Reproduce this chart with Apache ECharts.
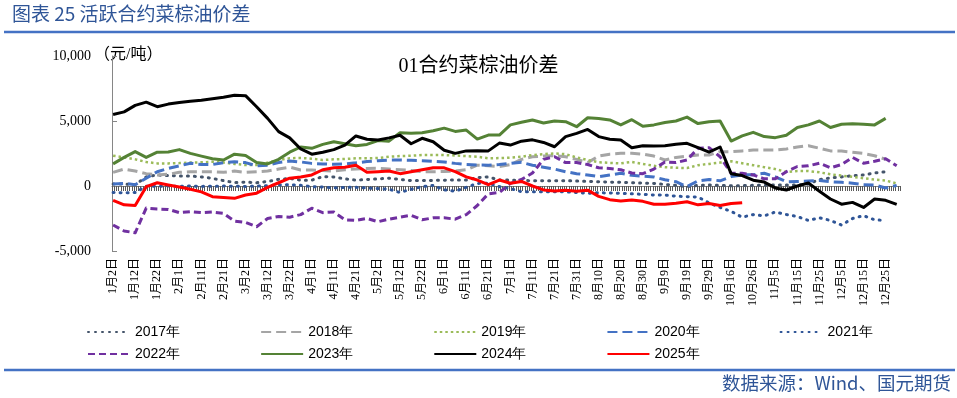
<!DOCTYPE html>
<html>
<head>
<meta charset="utf-8">
<script src="https://cdn.jsdelivr.net/npm/echarts@6/dist/echarts.min.js"></script>
<style>
  html, body { margin: 0; padding: 0; background: #fff; }
  #chart { width: 957px; height: 398px; }
</style>
</head>
<body>
<div id="chart"></div>
<script>
// calendar of the x axis (leap year, holidays dropped), label every 10th day
const monthDays = [31, 29, 31, 30, 31, 30, 31, 31, 30, 31, 30, 31]
const skipDays = ['1月1日', '5月1日', '10月1日', '10月2日', '10月3日', '10月4日', '10月5日', '10月6日', '10月7日']
const categories = []
monthDays.forEach((n, m) => {
  for (let d = 1; d <= n; d++) {
    const name = (m + 1) + '月' + d + '日'
    if (skipDays.indexOf(name) < 0) categories.push(name)
  }
})

const yTicks = [-5000, 0, 5000, 10000]
const years = ['2017年', '2018年', '2019年', '2020年', '2021年', '2022年', '2023年', '2024年', '2025年']

// values read every 5th category (元/吨)
const STEP = 5
const v2017 = [150,150,100,700,850,800,770,770,700,590, 410,260,300,250,350,510,580,450,450,720,
  700,550,450,500,550,600,500,420,420,430, 450,460,460,650,700,460,450,420,410,400,
  400,410,380,350,330,300,280,250,220,200, 120,50,-50,50,80,50,20,30,50,60,
  70,80,80,150,500,620,700,790,850,1000, 1100,null]
const v2018 = [1050,1300,1150,950,850,900,1050,1100,1100,1100, 1050,1150,1050,1100,1150,1300,1450,1230,1230,1200,
  1150,1250,1310,1350,1360,1300,1250,1200,1100,1100, 1120,1150,1250,1600,1560,1500,1650,2050,2250,2300,
  2330,2250,2050,1800,2300,2450,2510,2510,2450,2300, 2000,2200,2300,2380,2380,2640,2640,2700,2770,2770,
  2770,2850,3000,3100,2900,2700,2690,2600,2500,2330, 2050,null]
const v2019 = [2330,2200,2050,1850,1740,1740,1760,1800,1820,1860, 1800,1700,1610,1610,1800,2000,2130,2160,2100,2000,
  2050,2080,2130,2130,2150,2250,2300,2330,2380,2380, 2380,2350,2300,2250,2130,2150,2180,2250,2380,2450,
  2510,2450,2200,2000,1830,1780,1740,1850,1700,1550, 1450,1400,1380,1600,1700,1800,1900,1750,1600,1450,
  1300,1080,1150,1150,1050,900,800,700,600,500, 420,200]
const v2020 = [150,200,100,600,1100,1350,1550,1750,1650,1650, 1800,1870,1800,1550,1600,1800,1920,1850,1740,1700,
  1670,1700,1780,1880,1950,2000,2000,1980,1950,1900, 1850,1740,1650,1610,1600,1650,1740,1820,1600,1450,
  1300,1100,950,850,720,850,980,820,750,700, 480,330,-50,400,500,400,720,850,870,980,
  700,330,350,380,420,330,280,220,100,80, -150,50]
const v2021 = [-500,-520,-500,-20,-30,0,-20,0,-30,-20, 0,-20,-30,0,30,80,100,50,-50,-80,
  -150,-100,-100,-150,-200,-250,-500,-250,-50,50, -300,-400,-100,200,210,-50,-200,-440,-440,-440,
  -440,-450,-500,-560,-520,-540,-560,-600,-640,-690, -700,-780,-820,-850,-1300,-1650,-1950,-2400,-2200,-2300,
  -2000,-2200,-2350,-2650,-2450,-2650,-3000,-2500,-2280,-2600, -2650,null]
const v2022 = [-3000,-3460,-3600,-1700,-1770,-1800,-2050,-1980,-2050,-2000, -2100,-2700,-2800,-3130,-2500,-2350,-2400,-2200,-1710,-2050,
  -2000,-2600,-2650,-2500,-2750,-2550,-2400,-2250,-2600,-2450, -2450,-2550,-2200,-1500,-600,-500,200,500,1000,2050,
  2250,1800,1800,1650,1400,1350,1250,1000,950,1300, 1850,1800,2000,2900,2950,2250,980,980,850,550,
  550,1100,1500,1550,1750,1400,1650,2200,1750,1900, 2100,1560]
const v2023 = [1700,2200,2650,2200,2600,2620,2800,2510,2300,2100, 2000,2450,2350,1800,1700,2050,2600,3000,2900,3200,
  3400,3250,3100,3200,3500,3450,4100,4050,4100,4250, 4450,4200,4300,3610,3920,3920,4700,4900,5080,4850,
  5000,4950,4560,5250,5200,5080,4700,5100,4600,4700, 4880,5000,5300,4800,4950,5000,3460,3850,4130,3800,
  3720,3900,4500,4700,5000,4500,4750,4780,4750,4700, 5200,null]
const v2024 = [5500,5700,6200,6450,6100,6300,6420,6520,6600,6720, 6830,6980,6950,6100,5200,4180,3700,2850,2450,2600,
  2800,3150,3850,3600,3540,3700,3900,3250,3670,3400, 2750,2510,2700,2720,2700,3300,3150,3450,3550,3350,
  3020,3800,4050,4350,3800,3600,3540,2950,3100,3080, 3100,3220,3280,2950,2600,3000,950,800,450,300,
  -150,-310,0,230,-400,-1000,-1400,-1260,-1650,-1000, -1100,-1410]
const v2025 = [-1100,-1450,-1500,-50,250,80,-80,-250,-450,-820, -880,-950,-690,-550,-100,250,600,700,850,1250,
  1400,1450,1600,1050,1100,1150,950,1100,1250,1400, 1400,1100,700,460,100,460,210,350,0,-300,
  -380,-320,-400,-320,-800,-1050,-1150,-1080,-1180,-1400, -1400,-1330,-1210,-1450,-1350,-1500,-1350,-1280]

const spread = samples => {
  const arr = categories.map(() => null)
  samples.forEach((v, k) => { if (k * STEP < arr.length) arr[k * STEP] = v })
  return arr
}

const styles = [
  { color: '#44546A', width: 3, type: [1, 6], cap: 'round' },
  { color: '#A5A5A5', width: 3, type: [10, 5], cap: 'butt' },
  { color: '#9BBB59', width: 2.5, type: [2.5, 3], cap: 'butt' },
  { color: '#4472C4', width: 3, type: [10, 5], cap: 'butt' },
  { color: '#2F5597', width: 3, type: [1, 6], cap: 'round' },
  { color: '#7030A0', width: 3, type: [7, 4], cap: 'butt' },
  { color: '#548235', width: 3, type: 'solid', cap: 'butt' },
  { color: '#000000', width: 3, type: 'solid', cap: 'butt' },
  { color: '#FF0000', width: 3, type: 'solid', cap: 'butt' }
]
const values = [v2017, v2018, v2019, v2020, v2021, v2022, v2023, v2024, v2025]

const serif = '"Liberation Serif", "Noto Sans CJK SC", serif'
const legendText = { fontFamily: '"Liberation Sans Narrow", "Liberation Sans", sans-serif', fontSize: 14, color: '#000' }
const legendBase = { left: 82, itemWidth: 42, itemHeight: 14, itemGap: 80, textStyle: legendText, itemStyle: { opacity: 0 } }

const chart = echarts.init(document.getElementById('chart'))
chart.setOption({
  animation: false,
  title: {
    text: '01合约菜棕油价差',
    left: 'center',
    top: 52,
    textStyle: { fontFamily: serif, fontSize: 20, fontWeight: 'normal', color: '#000' }
  },
  // grid 0 holds the data, grid 1 is a thin strip under the zero line for the tick comb
  grid: [
    { left: 112, right: 57, top: 56, bottom: 147 },
    { left: 112, right: 57, top: 186, height: 5 }
  ],
  legend: [
    Object.assign({ data: years.slice(0, 5), top: 320 }, legendBase),
    Object.assign({ data: years.slice(5), top: 342 }, legendBase)
  ],
  xAxis: [
    {
      type: 'category',
      data: categories,
      axisLine: { show: false, onZero: false },
      axisTick: { show: false },
      axisLabel: { interval: 9, rotate: 90, margin: 7, fontFamily: serif, fontSize: 12, color: '#000' }
    },
    {
      // one tick per day boundary
      type: 'value',
      gridIndex: 1,
      position: 'top',
      min: 0,
      max: categories.length,
      interval: 1,
      axisLine: { show: true, onZero: false, lineStyle: { color: '#7F7F7F', width: 1 } },
      axisTick: { show: true, inside: true, length: 5, lineStyle: { color: '#595959', width: 1 } },
      axisLabel: { show: false },
      splitLine: { show: false }
    }
  ],
  yAxis: [
    {
      type: 'value',
      min: yTicks[0],
      max: yTicks[yTicks.length - 1],
      interval: 5000,
      splitLine: { show: false },
      axisLine: { show: true, lineStyle: { color: '#868686' } },
      axisTick: { show: true, inside: true, length: 5, lineStyle: { color: '#868686' } },
      axisLabel: {
        margin: 21,
        fontFamily: serif,
        fontSize: 14,
        color: '#000',
        formatter: v => v.toLocaleString('en-US')
      }
    },
    { type: 'value', gridIndex: 1, show: false, splitLine: { show: false } }
  ],
  series: years.map((name, i) => ({
    name,
    type: 'line',
    data: spread(values[i]),
    connectNulls: true,
    symbol: 'none',
    color: styles[i].color,
    lineStyle: { color: styles[i].color, width: styles[i].width, type: styles[i].type, cap: styles[i].cap, join: 'round' }
  })),
  graphic: [
    {
      type: 'text', left: 12, top: 4,
      style: { text: '图表 25 活跃合约菜棕油价差', fill: '#2F5597', fontSize: 19, fontFamily: '"Noto Sans CJK SC", sans-serif' }
    },
    {
      type: 'line', shape: { x1: 4, y1: 32, x2: 955, y2: 32 },
      style: { stroke: '#4472C4', lineWidth: 2.5 }
    },
    {
      type: 'text', left: 94, top: 47,
      style: { text: '（元/吨）', fill: '#000', fontSize: 16, fontFamily: serif }
    },
    {
      type: 'line', shape: { x1: 4, y1: 370, x2: 955, y2: 370 },
      style: { stroke: '#4472C4', lineWidth: 2.5 }
    },
    {
      type: 'text', right: 6, top: 374,
      style: { text: '数据来源：Wind、国元期货', fill: '#2F5597', fontSize: 18.5, fontFamily: '"Noto Sans CJK SC", sans-serif' }
    }
  ]
})
</script>
</body>
</html>
